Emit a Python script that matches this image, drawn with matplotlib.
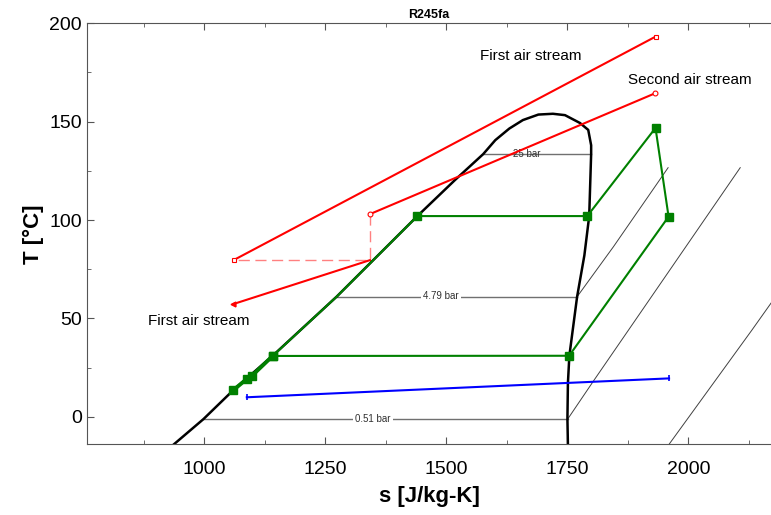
import numpy as np
import matplotlib
matplotlib.use('Agg')
import matplotlib.pyplot as plt
from matplotlib.ticker import MultipleLocator

plt.rcParams['font.family'] = ['Liberation Sans', 'DejaVu Sans']

# saturation dome of R245fa (s in J/kg-K, T in degC)
dome_s = [937, 998, 1060, 1141, 1273, 1440, 1518, 1576, 1601, 1630, 1658, 1690, 1720, 1745,
          1776, 1793, 1799, 1799, 1795, 1785, 1770, 1754, 1751, 1750, 1751]
dome_T = [-14, -1.2, 13.6, 31, 61, 102, 120.4, 133.5, 140.6, 146.5, 150.8, 153.6, 154, 153.3,
          149.3, 145.8, 138, 133.5, 102, 82, 61, 31, 17, -1.2, -14]

# isobars
p25_s = [1576, 1799]
p25_T = [133.5, 133.5]
p479_s = [1273, 1770]
p479_T = [61, 61]
p479_sup_s = [1770, 1845, 1958]
p479_sup_T = [61, 86.4, 126.6]
p051_s = [998, 1750.5]
p051_T = [-1.2, -1.2]
p051_sup_s = [1750.5, 1805, 2107]
p051_sup_T = [-1.2, 18.6, 126.6]
p_low_s = [1960, 2131, 2180]
p_low_T = [-14, 44, 61]

# ORC cycle (green)
pump_s = [1060, 1087.6, 1098, 1141]
pump_T = [13.6, 19.2, 20.8, 30.9]
cyc_s = [1141, 1273, 1440, 1791, 1932, 1959, 1753.5, 1141]
cyc_T = [30.9, 61, 102, 102, 146.8, 101.7, 31, 30.9]
cyc_mark = [0, 2, 3, 4, 5, 6]

# air streams (red)
air1_s = [1061, 1932]
air1_T = [79.7, 193.2]
air2_s = [1342, 1931]
air2_T = [103, 164.4]
air1b_s = [1342, 1060]
air1b_T = [79.6, 57.3]
dash_s = [1342, 1342, 1061]
dash_T = [103, 79.7, 79.7]

# cooling water (blue)
water_s = [1087.6, 1960]
water_T = [9.9, 19.5]

fig = plt.figure(figsize=(7.71, 5.15), dpi=100)
ax = fig.add_axes([0.1132, 0.1373, 0.8868, 0.8175])

ax.plot(p25_s, p25_T, color='#707070', lw=1)
ax.text(1667, 133.5, '25 bar', fontsize=7, ha='center', va='center', color='#303030')
ax.plot(p479_s, p479_T, color='#707070', lw=1)
ax.text(1489, 61.2, '4.79 bar', fontsize=7, ha='center', va='center', color='#303030',
        bbox=dict(facecolor='white', edgecolor='none', pad=1.5))
ax.plot(p479_sup_s, p479_sup_T, color='#404040', lw=0.7)
ax.plot(p051_s, p051_T, color='#707070', lw=1)
ax.text(1348, -1.2, '0.51 bar', fontsize=7, ha='center', va='center', color='#303030',
        bbox=dict(facecolor='white', edgecolor='none', pad=1.5))
ax.plot(p051_sup_s, p051_sup_T, color='#404040', lw=0.7)
ax.plot(p_low_s, p_low_T, color='#404040', lw=0.7)

ax.plot(dome_s, dome_T, color='black', lw=1.8, zorder=3)

ax.plot(dash_s, dash_T, color='#ff8080', lw=1, ls=(0, (8, 4)), zorder=2)
ax.plot(air1_s, air1_T, color='red', lw=1.5, marker='s', ms=3.5, mfc='white', mew=0.8, zorder=4)
ax.plot(air2_s, air2_T, color='red', lw=1.5, marker='o', ms=3.5, mfc='white', mew=0.8, zorder=4)
ax.plot(air1b_s, air1b_T, color='red', lw=1.5, zorder=4)
ax.plot(air1b_s[-1:], air1b_T[-1:], color='red', marker='<', ms=3.5, zorder=4)

ax.plot(water_s, water_T, color='blue', lw=1.5, marker='|', ms=5, mew=1.2, zorder=4)

ax.plot(cyc_s, cyc_T, color='green', lw=1.5, zorder=5)
ax.plot([cyc_s[i] for i in cyc_mark], [cyc_T[i] for i in cyc_mark], ls='none',
        marker='s', ms=5.5, color='green', zorder=6)
ax.plot(pump_s, pump_T, color='green', lw=2.8, marker='s', ms=5.5, zorder=6)

ax.text(1570, 183.4, 'First air stream', fontsize=11, ha='left', va='center')
ax.text(1876, 171, 'Second air stream', fontsize=11, ha='left', va='center')
ax.text(883, 48.6, 'First air stream', fontsize=11, ha='left', va='center')

ax.set_xlim(758, 2170.6)
ax.set_ylim(-14, 200)
ax.set_xticks([1000, 1250, 1500, 1750, 2000])
ax.set_yticks([0, 50, 100, 150, 200])
ax.xaxis.set_minor_locator(MultipleLocator(125))
ax.yaxis.set_minor_locator(MultipleLocator(25))
ax.tick_params(which='both', direction='in', top=True, right=False, labelsize=14,
               color='#555555')
ax.tick_params(which='major', length=5)
ax.tick_params(which='minor', length=3)
ax.tick_params(axis='x', pad=12)
ax.tick_params(axis='y', pad=4)
for side in ['left', 'top', 'bottom']:
    ax.spines[side].set_color('#555555')
ax.spines['right'].set_visible(False)

ax.set_title('R245fa', fontsize=9, fontweight='bold', pad=4)
ax.set_xlabel('s [J/kg-K]', fontsize=16, fontweight='bold', labelpad=6)
ax.set_ylabel('T [°C]', fontsize=16, fontweight='bold', labelpad=4)

fig.savefig('out.png', dpi=100)
